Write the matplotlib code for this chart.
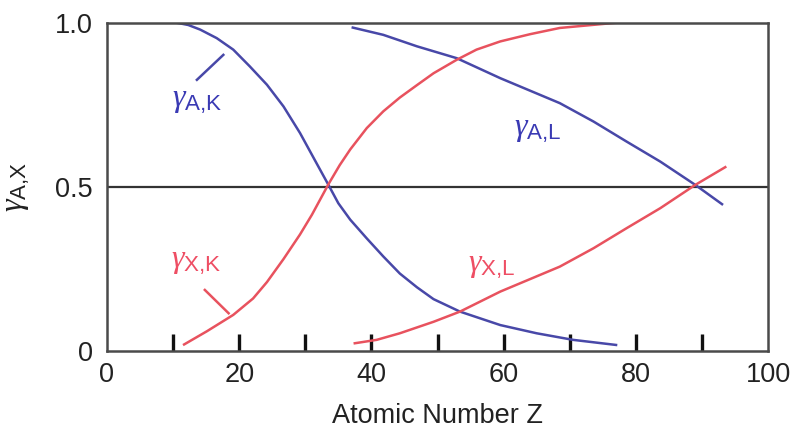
import matplotlib
matplotlib.use("Agg")
import matplotlib.pyplot as plt

plt.rcParams['font.family'] = ['Liberation Sans', 'DejaVu Sans']
plt.rcParams['mathtext.fontset'] = 'custom'
plt.rcParams['mathtext.it'] = 'Liberation Serif:italic'
plt.rcParams['mathtext.rm'] = 'Liberation Sans'
plt.rcParams['mathtext.sf'] = 'Liberation Sans'

# ---- data ----
z_ak = [10.5, 12.3, 14.1, 16.6, 19.1, 21.6, 24.2, 26.7, 29.2, 31.7, 33.5, 35.0, 36.8, 39.3,
        41.8, 44.3, 46.9, 49.4, 53.4, 59.5, 65.0, 70.5, 77.2]
y_ak = [1.0, 0.993, 0.979, 0.953, 0.918, 0.867, 0.811, 0.745, 0.664, 0.572, 0.506, 0.45, 0.40,
        0.343, 0.288, 0.236, 0.194, 0.158, 0.12, 0.079, 0.054, 0.034, 0.018]

z_xk = [11.5, 15.1, 19.1, 22.1, 24.2, 26.7, 29.2, 31.0, 33.5, 35.2, 36.8, 39.3, 41.8,
        44.3, 46.9, 49.4, 52.9, 55.9, 59.5, 64.0, 68.5, 77.1]
y_xk = [0.018, 0.06, 0.11, 0.16, 0.21, 0.28, 0.355, 0.415, 0.508, 0.566, 0.614, 0.679,
        0.73, 0.772, 0.81, 0.846, 0.887, 0.918, 0.943, 0.965, 0.984, 1.0]

z_al = [37.0, 41.8, 46.9, 52.9, 59.5, 68.5, 73.6, 78.6, 83.7, 89.0, 93.2]
y_al = [0.986, 0.963, 0.928, 0.892, 0.831, 0.755, 0.699, 0.638, 0.577, 0.506, 0.445]

z_xl = [37.3, 40.8, 44.3, 49.4, 53.4, 59.5, 68.5, 73.6, 78.6, 83.7, 89.0, 93.7]
y_xl = [0.023, 0.034, 0.054, 0.089, 0.12, 0.181, 0.257, 0.313, 0.374, 0.435, 0.506, 0.562]

x_major = [0, 20, 40, 60, 80, 100]
x_minor = [10, 20, 30, 40, 50, 60, 70, 80, 90]
y_ticks = [0, 0.5, 1.0]
y_ticklabels = ['0', '0.5', '1.0']

labels = [r'$\gamma_{\mathrm{A{,}K}}$', r'$\gamma_{\mathrm{X{,}K}}$',
          r'$\gamma_{\mathrm{A{,}L}}$', r'$\gamma_{\mathrm{X{,}L}}$']
label_pos = [(13.6, 0.762), (13.5, 0.271), (65.1, 0.674), (58.2, 0.259)]
leader_ak = ([13.6, 17.6], [0.826, 0.902])
leader_xk = ([14.8, 18.4], [0.186, 0.115])

BLUE = '#4848a8'
RED = '#e8525e'
BLUE_T = '#3a3ab4'
RED_T = '#ee4e64'

fig = plt.figure(figsize=(7.92, 4.30), dpi=100)
ax = fig.add_axes([0.1351, 0.1837, 0.8346, 0.7635])

ax.plot(z_ak, y_ak, color=BLUE, lw=1.8, solid_capstyle='butt', solid_joinstyle='round')
ax.plot(z_al, y_al, color=BLUE, lw=1.8, solid_capstyle='butt', solid_joinstyle='round')
ax.plot(z_xk, y_xk, color=RED, lw=1.8, solid_capstyle='butt', solid_joinstyle='round')
ax.plot(z_xl, y_xl, color=RED, lw=1.8, solid_capstyle='butt', solid_joinstyle='round')
ax.plot(*leader_ak, color=BLUE, lw=1.8)
ax.plot(*leader_xk, color=RED, lw=1.8)

ax.axhline(0.5, color='#333333', lw=1.6, zorder=1)

cols = [BLUE_T, RED_T, BLUE_T, RED_T]
for lab, (px, py), c in zip(labels, label_pos, cols):
    ax.text(px, py, lab, color=c, fontsize=23, ha='center', va='center')

ax.set_xlim(0, 100)
ax.set_ylim(0, 1.0)
ax.xaxis.remove_overlapping_locs = False
ax.set_xticks(x_major)
ax.set_xticks(x_minor, minor=True)
ax.set_yticks(y_ticks)
ax.set_yticklabels(y_ticklabels)
ax.tick_params(axis='x', which='major', length=0, pad=8, labelsize=19.5, labelcolor='#222222')
ax.tick_params(axis='x', which='minor', direction='in', length=12, width=2.4, color='#111111')
ax.tick_params(axis='y', which='major', length=0, pad=10, labelsize=19.5, labelcolor='#222222')

for s in ax.spines.values():
    s.set_color('#4a4a4a')
    s.set_linewidth(1.8)

ax.set_xlabel('Atomic Number Z', fontsize=19.5, color='#222222', labelpad=11)
ax.set_ylabel(r'$\gamma_{\mathrm{A{,}X}}$', fontsize=23, color='#222222')
ax.yaxis.set_label_coords(-0.113, 0.5)

fig.savefig('out.png', dpi=100)
